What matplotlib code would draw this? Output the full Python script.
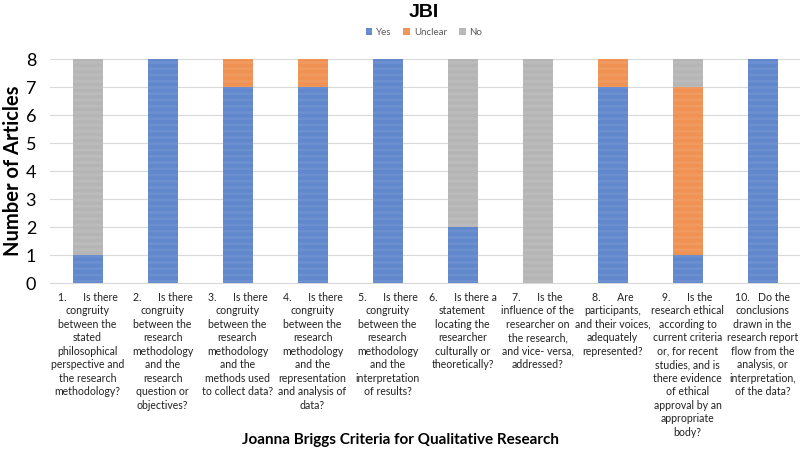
import matplotlib.pyplot as plt
import numpy as np

plt.rcParams['font.family'] = ['Lato', 'DejaVu Sans']
plt.rcParams['hatch.linewidth'] = 0.5

# Data
criteria = [
    "1.      Is there\ncongruity\nbetween the\nstated\nphilosophical\nperspective and\nthe research\nmethodology?",
    "2.      Is there\ncongruity\nbetween the\nresearch\nmethodology\nand the\nresearch\nquestion or\nobjectives?",
    "3.      Is there\ncongruity\nbetween the\nresearch\nmethodology\nand the\nmethods used\nto collect data?",
    "4.      Is there\ncongruity\nbetween the\nresearch\nmethodology\nand the\nrepresentation\nand analysis of\ndata?",
    "5.      Is there\ncongruity\nbetween the\nresearch\nmethodology\nand the\ninterpretation\nof results?",
    "6.      Is there a\nstatement\nlocating the\nresearcher\nculturally or\ntheoretically?",
    "7.      Is the\ninfluence of the\nresearcher on\nthe research,\nand vice- versa,\naddressed?",
    "8.      Are\nparticipants,\nand their voices,\nadequately\nrepresented?",
    "9.      Is the\nresearch ethical\naccording to\ncurrent criteria\nor, for recent\nstudies, and is\nthere evidence\nof ethical\napproval by an\nappropriate\nbody?",
    "10.   Do the\nconclusions\ndrawn in the\nresearch report\nflow from the\nanalysis, or\ninterpretation,\nof the data?",
]
yes = [1, 8, 7, 7, 8, 2, 0, 7, 1, 8]
unclear = [0, 0, 1, 1, 0, 0, 0, 1, 6, 0]
no = [7, 0, 0, 0, 0, 6, 8, 0, 1, 0]

series = [("Yes", yes, "#4472C4", "#7E9DD6"),
          ("Unclear", unclear, "#ED7D31", "#F3A775"),
          ("No", no, "#A5A5A5", "#C6C6C6")]

fig = plt.figure(figsize=(8, 4.62), dpi=100)
ax = fig.add_axes([0.0625, 0.387, 0.9375, 0.485])

x = np.arange(len(criteria))
bottom = np.zeros(len(criteria))
for name, vals, col, hcol in series:
    ax.bar(x, vals, width=0.4, bottom=bottom, color=col, edgecolor=hcol,
           linewidth=0, hatch='-' * 14, label=name, zorder=3)
    bottom += np.array(vals)

ax.set_xlim(-0.5, len(criteria) - 0.5)
ax.set_ylim(0, 8)
ax.set_yticks(range(9))
ax.tick_params(axis='y', labelsize=13, length=0, pad=10)
ax.tick_params(axis='x', length=0, pad=6)
ax.set_xticks(x)
ax.set_xticklabels(criteria, fontsize=7.6, linespacing=1.28, color='#222222',
                   va='top', ha='center')
ax.grid(axis='y', color='#D9D9D9', linewidth=0.8, zorder=0)
for s in ['top', 'right', 'left']:
    ax.spines[s].set_visible(False)
ax.spines['bottom'].set_color('#D9D9D9')

ax.set_ylabel("Number of Articles", fontsize=14.5, fontweight='bold', labelpad=2)
fig.text(0.5, 0.048, "Joanna Briggs Criteria for Qualitative Research",
         fontsize=11, fontweight='bold', ha='center', va='center')
fig.text(0.53, 0.972, "JBI", fontsize=14, fontweight='bold', ha='center', va='center',
         family=['Liberation Sans', 'DejaVu Sans'])

leg = fig.legend(loc='center', bbox_to_anchor=(0.53, 0.93), ncol=3, frameon=False,
                 fontsize=7, handlelength=0.7, handleheight=0.7, columnspacing=1.2,
                 handletextpad=0.4)
for t in leg.get_texts():
    t.set_color('#595959')

fig.savefig("out.png", dpi=100)
